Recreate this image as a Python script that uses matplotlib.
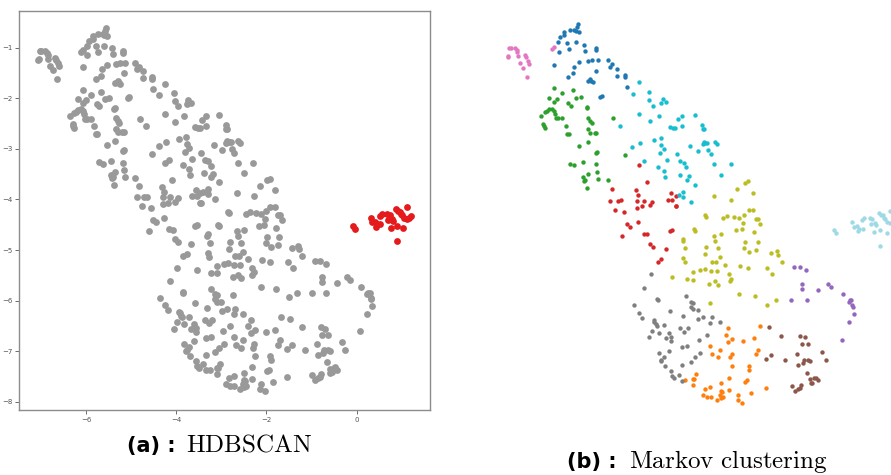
import numpy as np
import matplotlib.pyplot as plt

plt.rcParams['mathtext.fontset'] = 'cm'

# 2-D embedding, grouped by the Markov clustering labels
pink_pts = [(-7.02, -1.07), (-6.99, -1.07), (-6.90, -1.06), (-6.86, -1.11), (-6.85, -1.15), (-7.06, -1.24),
            (-7.04, -1.23), (-6.84, -1.23), (-6.68, -1.20), (-6.67, -1.24), (-6.62, -1.31), (-6.61, -1.37),
            (-6.79, -1.36), (-6.73, -1.44), (-6.65, -1.62), (-6.12, -1.09), (-6.07, -1.05)]
blue_pts = [(-5.56, -0.62), (-5.58, -0.67), (-5.63, -0.72), (-5.73, -0.72), (-5.54, -0.77), (-5.60, -0.75),
            (-5.85, -0.77), (-5.85, -0.83), (-5.93, -0.87), (-5.99, -0.96), (-5.78, -0.97), (-5.60, -0.96),
            (-5.42, -1.01), (-5.74, -1.09), (-5.41, -1.12), (-5.18, -1.06), (-5.17, -1.10), (-5.97, -1.15),
            (-6.07, -1.39), (-5.64, -1.42), (-5.53, -1.34), (-5.33, -1.32), (-5.25, -1.30), (-5.13, -1.30),
            (-4.91, -1.30), (-4.82, -1.38), (-4.88, -1.42), (-4.73, -1.47), (-4.73, -1.59), (-4.54, -1.58),
            (-4.54, -1.62), (-5.16, -1.51), (-5.66, -1.55), (-5.77, -1.61), (-5.35, -1.69), (-5.30, -1.66),
            (-5.24, -1.72), (-5.28, -1.69), (-4.51, -1.81), (-5.08, -1.99), (-5.04, -1.97)]
green_pts = [(-6.07, -1.83), (-5.67, -1.87), (-5.90, -1.93), (-6.18, -2.02), (-6.00, -2.04), (-5.59, -2.01),
             (-5.50, -2.00), (-5.76, -2.12), (-5.71, -2.16), (-6.07, -2.10), (-5.36, -2.19), (-5.37, -2.21),
             (-6.17, -2.23), (-6.12, -2.22), (-6.22, -2.27), (-6.07, -2.26), (-6.26, -2.29), (-6.05, -2.31),
             (-6.35, -2.35), (-6.02, -2.40), (-5.98, -2.40), (-5.89, -2.40), (-5.33, -2.39), (-5.30, -2.45),
             (-5.26, -2.48), (-5.82, -2.54), (-6.30, -2.50), (-6.27, -2.58), (-6.29, -2.55), (-5.34, -2.60),
             (-5.29, -2.67), (-5.20, -2.67), (-5.16, -2.67), (-5.79, -2.70), (-5.75, -2.70), (-5.35, -2.84),
             (-5.53, -2.92), (-5.18, -3.05), (-5.15, -3.03), (-4.80, -2.40), (-4.54, -3.10), (-5.72, -3.26),
             (-5.63, -3.29), (-5.45, -3.23), (-5.18, -3.27), (-5.35, -3.46), (-5.15, -3.41), (-5.44, -3.51),
             (-5.41, -3.56), (-5.42, -3.58), (-5.13, -3.55), (-4.91, -3.57), (-5.37, -3.72)]
cyan_pts = [(-4.25, -1.71), (-4.38, -1.94), (-4.04, -1.90), (-4.03, -2.05), (-3.96, -2.16), (-3.74, -2.04),
            (-3.77, -2.12), (-3.67, -2.09), (-4.26, -2.32), (-3.82, -2.35), (-4.02, -2.46), (-3.34, -2.35),
            (-3.42, -2.42), (-3.05, -2.33), (-3.58, -2.56), (-3.52, -2.59), (-3.48, -2.59), (-3.34, -2.54),
            (-2.90, -2.53), (-2.87, -2.60), (-2.89, -2.60), (-3.78, -2.77), (-3.94, -2.81), (-4.23, -2.87),
            (-4.39, -2.94), (-3.77, -2.91), (-3.72, -2.99), (-3.81, -3.06), (-3.44, -3.08), (-3.17, -2.93),
            (-2.98, -3.02), (-2.87, -2.85), (-2.84, -2.87), (-2.89, -2.89), (-2.79, -2.87), (-2.63, -2.84),
            (-2.59, -2.89), (-2.77, -3.01), (-2.71, -3.08), (-4.66, -2.55), (-3.66, -3.19), (-3.37, -3.21),
            (-3.29, -3.24), (-4.15, -3.21), (-3.84, -3.32), (-3.72, -3.40), (-3.24, -3.33), (-3.38, -3.47),
            (-3.18, -3.50), (-3.23, -3.56), (-3.69, -3.51), (-2.64, -3.27), (-2.29, -3.27), (-2.50, -3.47),
            (-3.06, -3.66), (-3.30, -3.79), (-3.40, -3.85), (-3.30, -3.89), (-3.15, -3.99)]
red_pts = [(-4.83, -3.74), (-4.86, -3.96), (-4.71, -3.96), (-4.64, -3.95), (-4.77, -4.13), (-4.57, -4.17),
           (-4.51, -4.40), (-4.44, -4.45), (-4.61, -4.63), (-4.24, -3.28), (-4.09, -3.61), (-4.31, -3.75),
           (-4.28, -3.85), (-4.29, -3.96), (-4.14, -3.96), (-3.97, -3.98), (-4.18, -4.06), (-4.02, -4.04),
           (-4.29, -4.09), (-3.56, -3.82), (-3.47, -3.88), (-3.64, -3.94), (-3.55, -3.94), (-3.47, -4.06),
           (-3.45, -4.06), (-4.28, -4.36), (-4.15, -4.59), (-4.07, -4.60), (-3.59, -4.53), (-3.55, -4.51),
           (-4.02, -4.79), (-3.95, -4.83), (-3.68, -4.88), (-3.77, -5.07), (-3.85, -5.12)]
olive_pts = [(-1.98, -3.62), (-1.93, -3.59), (-2.15, -3.74), (-1.81, -3.81), (-2.65, -3.87), (-2.28, -3.94),
             (-1.91, -4.14), (-1.82, -4.14), (-2.85, -4.24), (-2.82, -4.27), (-2.46, -4.29), (-2.37, -4.25),
             (-2.22, -4.27), (-2.11, -4.28), (-2.01, -4.23), (-2.03, -4.38), (-1.74, -4.31), (-1.70, -4.30),
             (-1.66, -4.40), (-3.08, -4.50), (-3.06, -4.53), (-3.30, -4.69), (-3.32, -4.72), (-3.26, -4.85),
             (-2.65, -4.62), (-2.49, -4.60), (-2.63, -4.72), (-2.17, -4.52), (-2.05, -4.50), (-1.79, -4.56),
             (-1.99, -4.74), (-1.71, -4.75), (-2.81, -4.83), (-2.57, -4.85), (-2.00, -4.86), (-1.89, -4.93),
             (-1.74, -4.90), (-2.83, -4.97), (-2.53, -5.03), (-2.70, -5.12), (-2.61, -5.12), (-2.41, -5.17),
             (-3.30, -5.05), (-3.27, -5.13), (-2.10, -5.19), (-1.93, -5.24), (-2.85, -5.25), (-2.95, -5.27),
             (-2.72, -5.29), (-2.59, -5.30), (-3.09, -5.32), (-2.32, -5.35), (-3.55, -5.40), (-3.23, -5.45),
             (-3.09, -5.46), (-2.75, -5.53), (-2.63, -5.49), (-2.28, -5.44), (-2.31, -5.49), (-2.56, -5.56),
             (-2.12, -5.73), (-1.78, -5.77), (-2.74, -5.89), (-1.44, -4.95), (-1.31, -4.91), (-1.28, -4.98),
             (-1.20, -5.12), (-1.52, -5.23), (-1.40, -5.35), (-1.51, -5.93), (-1.32, -5.85)]
gray_pts = [(-3.99, -5.35), (-4.14, -5.61), (-4.35, -5.94), (-4.25, -6.09), (-4.19, -6.18), (-3.86, -5.82),
            (-3.85, -5.84), (-3.24, -5.77), (-3.13, -5.87), (-3.10, -5.89), (-3.13, -5.97), (-3.09, -6.02),
            (-3.00, -6.03), (-3.58, -6.05), (-3.31, -6.14), (-2.98, -6.20), (-2.88, -6.16), (-2.70, -6.16),
            (-2.73, -6.27), (-2.51, -6.26), (-3.94, -6.22), (-3.92, -6.25), (-3.89, -6.30), (-3.87, -6.33),
            (-3.71, -6.32), (-3.98, -6.43), (-4.04, -6.55), (-3.82, -6.46), (-3.60, -6.47), (-3.57, -6.54),
            (-3.68, -6.56), (-3.57, -6.62), (-3.37, -6.38), (-3.28, -6.44), (-3.20, -6.38), (-2.80, -6.50),
            (-2.96, -6.60), (-3.83, -6.85), (-3.77, -6.98), (-3.78, -7.00), (-3.71, -6.92), (-3.69, -7.09),
            (-3.60, -6.80), (-3.34, -6.74), (-3.22, -6.72), (-2.95, -6.85), (-3.05, -6.93), (-3.14, -7.01),
            (-3.33, -7.08), (-3.57, -7.19), (-3.40, -7.26), (-3.55, -7.29), (-3.50, -7.32), (-3.34, -7.37)]
orange_pts = [(-1.67, -6.33), (-2.34, -6.38), (-2.40, -6.50), (-2.26, -6.58), (-2.35, -6.64), (-2.02, -6.61),
              (-1.80, -6.57), (-2.73, -6.71), (-2.53, -6.78), (-2.68, -6.87), (-2.56, -6.93), (-2.27, -6.86),
              (-2.30, -6.93), (-1.70, -6.78), (-1.75, -6.87), (-2.26, -7.09), (-1.91, -7.10), (-1.89, -7.17),
              (-2.33, -7.31), (-1.94, -7.36), (-1.99, -7.39), (-2.49, -7.42), (-3.04, -7.25), (-3.10, -7.33),
              (-3.07, -7.33), (-3.26, -7.36), (-3.09, -7.45), (-2.73, -7.48), (-2.83, -7.52), (-2.49, -7.56),
              (-2.47, -7.59), (-2.52, -7.65), (-2.46, -7.68), (-2.50, -7.70), (-2.32, -7.55), (-2.89, -7.65),
              (-2.80, -7.68), (-2.71, -7.68), (-2.59, -7.74), (-2.13, -7.65), (-2.14, -7.74), (-2.04, -7.79),
              (-1.85, -7.60), (-1.54, -7.51)]
purple_pts = [(-0.93, -5.21), (-0.82, -5.21), (-0.68, -5.28), (-0.77, -5.54), (-0.76, -5.63), (-0.43, -5.65),
              (-0.22, -5.53), (-0.15, -5.60), (-1.00, -5.84), (-0.67, -5.84), (0.10, -5.73), (0.26, -5.85),
              (0.29, -5.84), (0.24, -5.87), (0.31, -5.94), (0.32, -5.97), (0.35, -6.11), (0.24, -6.26),
              (0.08, -6.59)]
brown_pts = [(-1.47, -6.36), (-1.22, -6.52), (-0.80, -6.52), (-0.70, -6.55), (-0.76, -6.67), (-0.63, -6.67),
             (-0.33, -6.82), (-0.88, -6.86), (-1.44, -6.88), (-1.54, -6.95), (-1.14, -6.97), (-0.72, -6.97),
             (-0.63, -6.98), (-0.59, -7.00), (-0.74, -7.03), (-0.86, -7.07), (-0.26, -6.97), (-0.65, -7.22),
             (-0.59, -7.34), (-0.50, -7.32), (-0.47, -7.31), (-0.43, -7.36), (-0.55, -7.41), (-0.58, -7.42),
             (-0.98, -7.47), (-0.79, -7.45), (-0.81, -7.51), (-0.85, -7.53), (-0.92, -7.57)]
# isolated group, the only cluster HDBSCAN finds
island_pts = [(-0.09, -4.52), (-0.04, -4.58), (0.31, -4.36), (0.34, -4.45), (0.40, -4.44), (0.45, -4.49),
              (0.43, -4.54), (0.53, -4.49), (0.52, -4.32), (0.56, -4.28), (0.68, -4.28), (0.73, -4.31),
              (0.70, -4.41), (0.79, -4.39), (0.81, -4.42), (0.87, -4.19), (0.92, -4.23), (0.96, -4.24),
              (1.11, -4.15), (1.01, -4.31), (1.05, -4.36), (0.90, -4.52), (1.04, -4.57), (0.77, -4.56),
              (0.90, -4.82), (1.20, -4.32), (1.17, -4.37), (1.11, -4.39), (0.99, -4.28)]

markov_groups = [
    (blue_pts, '#1f77b4'), (orange_pts, '#ff7f0e'), (green_pts, '#2ca02c'), (red_pts, '#d62728'),
    (purple_pts, '#9467bd'), (brown_pts, '#8c564b'), (pink_pts, '#e377c2'), (gray_pts, '#7f7f7f'),
    (olive_pts, '#bcbd22'), (cyan_pts, '#17becf'), (island_pts, '#9edae5'),
]
noise_pts = np.array([p for pts, _ in markov_groups if pts is not island_pts for p in pts])
island = np.array(island_pts)

fig = plt.figure(figsize=(8.91, 4.75), dpi=100)

# (a) HDBSCAN: everything is noise except the island
ax1 = fig.add_axes([0.0217, 0.1368, 0.461, 0.8406])
ax1.scatter(noise_pts[:, 0], noise_pts[:, 1], s=24, color='#999999', linewidths=0)
ax1.scatter(island[:, 0], island[:, 1], s=24, color='#e41a1c', linewidths=0)
ax1.set_xlim(-7.48, 1.63)
ax1.set_ylim(-8.16, -0.27)
ax1.set_xticks([-6, -4, -2, 0])
ax1.set_yticks([-1, -2, -3, -4, -5, -6, -7, -8])
ax1.tick_params(labelsize=5, colors='#555555', length=3, width=0.6, pad=2)
for sp in ax1.spines.values():
    sp.set_color('#8c8c8c')
    sp.set_linewidth(1.0)

# (b) Markov clustering
ax2 = fig.add_axes([0.55, 0.1158, 0.45, 0.8842])
for pts, col in markov_groups:
    arr = np.array(pts)
    ax2.scatter(arr[:, 0], arr[:, 1], s=10, color=col, linewidths=0)
ax2.set_xlim(-7.434, 1.135)
ax2.set_ylim(-8.114, -0.16)
ax2.axis('off')

# captions: bold sans label + serif name
fig.text(176 / 891, 1 - 452 / 475, '(a) :', fontsize=15, fontweight='bold', ha='right', va='baseline')
fig.text(186 / 891, 1 - 452 / 475, r'$\mathrm{HDBSCAN}$', fontsize=18, ha='left', va='baseline')
fig.text(617 / 891, 1 - 468 / 475, '(b) :', fontsize=15, fontweight='bold', ha='right', va='baseline')
fig.text(629 / 891, 1 - 468 / 475, r'$\mathrm{Markov\ clustering}$', fontsize=18, ha='left', va='baseline')

fig.savefig('out.png', dpi=100)
